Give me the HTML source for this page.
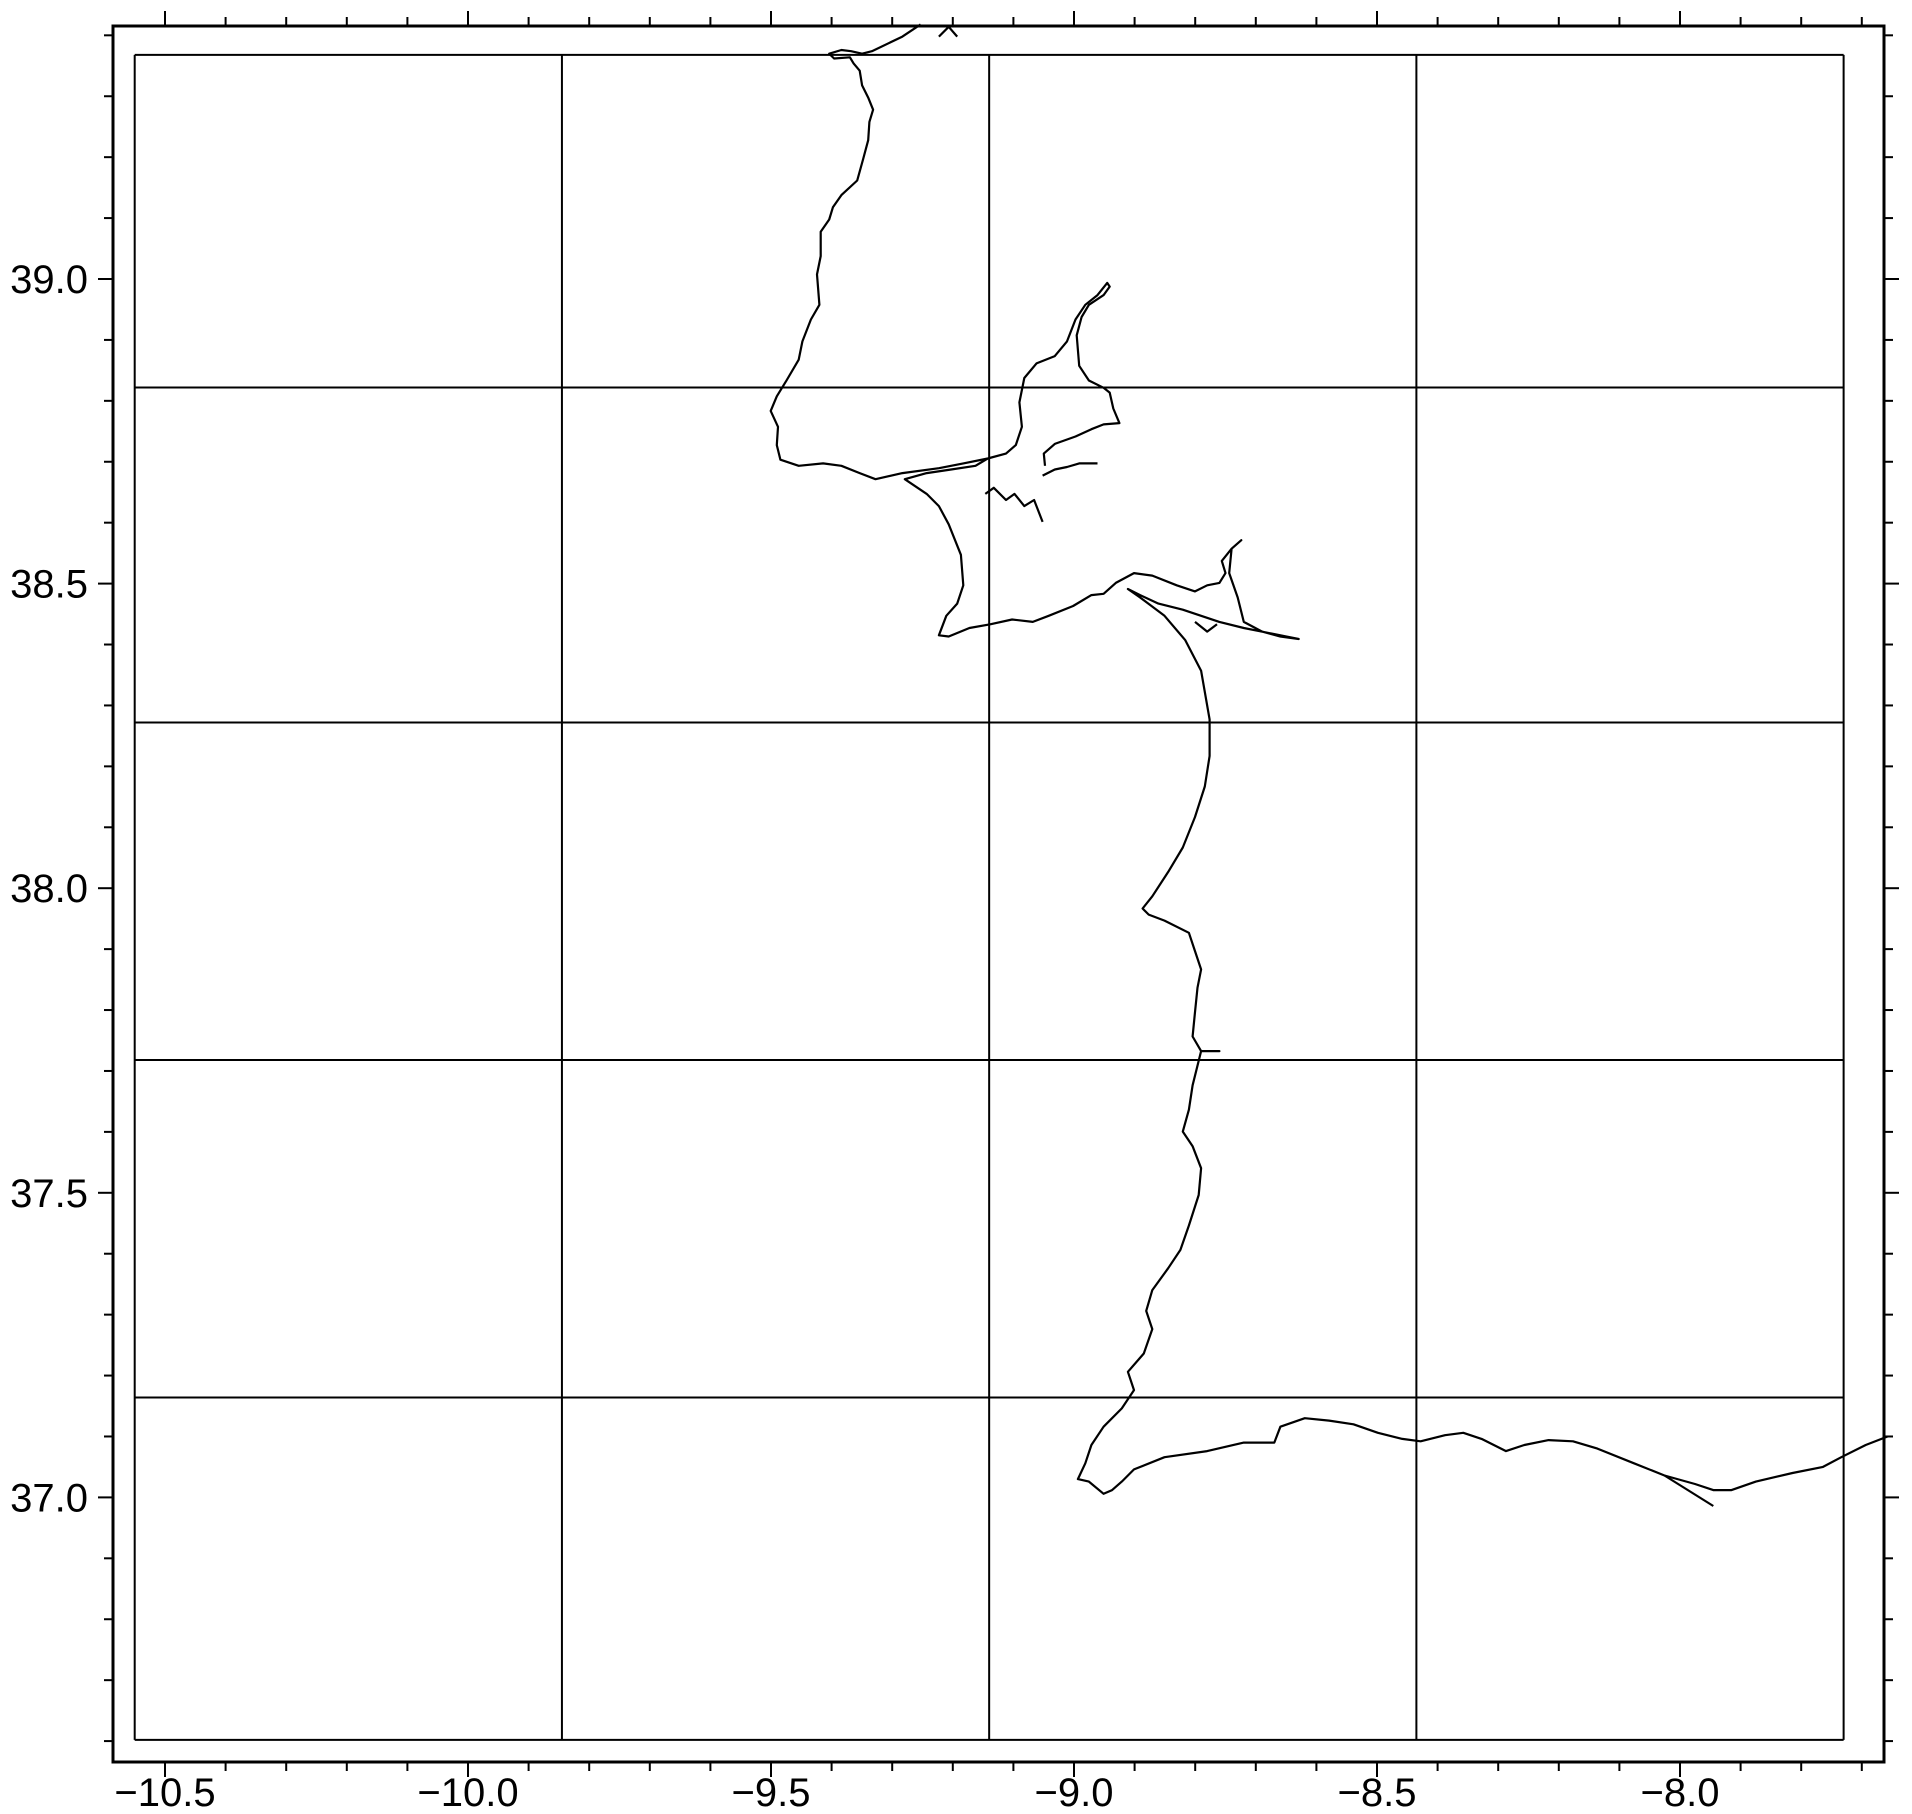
<!DOCTYPE html>
<html><head><meta charset="utf-8"><style>
body{margin:0;background:#fff}
svg{display:block}
text{font-family:"Liberation Sans",sans-serif;font-size:40px;fill:#000}
</style></head><body>
<svg id="map" width="1912" height="1814" viewBox="0 0 1912 1814" xmlns="http://www.w3.org/2000/svg">
<g id="grid"></g>
<g id="coast"></g>
<g id="axes"></g>
</svg>
<script>
const xTickValues=[-10.5,-10.0,-9.5,-9.0,-8.5,-8.0];
const xTickLabels=["\u221210.5","\u221210.0","\u22129.5","\u22129.0","\u22128.5","\u22128.0"];
const yTickValues=[37.0,37.5,38.0,38.5,39.0];
const yTickLabels=["37.0","37.5","38.0","38.5","39.0"];
const gridLons=[-10.55,-9.845,-9.14,-8.435,-7.73];
const gridLats=[39.368,38.822,38.272,37.718,37.164,36.602];
// coastline (image-space trace, converted via inverse axes)
const coastMain=[[755,20],[740,30],[715,42],[707,44],[698,42],[690,41],[680,44],[684,48],[697,47],[700,52],[705,58],[707,70],[712,80],[716,90],[713,100],[712,115],[708,130],[703,148],[690,160],[683,170],[680,180],[673,190],[673,210],[670,225],[672,250],[665,262],[658,280],[655,295],[645,312],[637,325],[632,337],[638,350],[637,365],[640,377],[655,382],[675,380],[690,382],[705,388],[718,393],[740,388],[770,384],[790,380],[810,376],[825,372],[833,365],[838,350],[836,330],[840,310],[850,298],[865,292],[875,280],[882,262],[890,250],[900,242],[908,232],[910,235],[905,242],[893,250],[887,260],[883,275],[885,300],[893,312],[905,318],[910,322],[913,335],[918,347],[905,348],[895,352],[882,358],[865,364],[856,372],[857,382]];
const coastSouth=[[810,376],[800,382],[780,385],[760,388],[742,393],[760,405],[770,415],[778,430],[788,455],[790,480],[785,495],[776,505],[770,521],[778,522],[795,515],[812,512],[830,508],[847,510],[860,505],[880,497],[895,488],[905,487],[915,478],[930,470],[945,472],[965,480],[980,485],[990,480],[1000,478],[1005,470],[1002,460],[1010,450],[1018,443],[1010,450],[1008,470],[1015,490],[1020,510],[1035,518],[1050,522],[1065,524],[1045,520],[1020,515],[1000,510],[985,505],[970,500],[950,495],[935,488],[925,483],[935,490],[955,505],[972,525],[985,550],[992,590],[992,620],[988,645],[980,670],[970,695],[958,715],[945,735],[937,745],[942,750],[955,755],[975,765],[980,780],[985,795],[982,810],[980,830],[978,850],[985,862],[1000,862],[985,862],[978,890],[975,910],[970,928],[978,940],[985,958],[983,980],[975,1005],[968,1025],[958,1040],[945,1058],[940,1075],[945,1090],[938,1110],[925,1125],[930,1140],[920,1155],[905,1170],[895,1185],[890,1200],[884,1213],[893,1215],[905,1225],[912,1222],[920,1215],[930,1205],[955,1195],[990,1190],[1020,1183],[1045,1183],[1050,1170],[1070,1163],[1090,1165],[1110,1168],[1130,1175],[1150,1180],[1165,1182],[1185,1177],[1200,1175],[1215,1180],[1235,1190],[1250,1185],[1270,1181],[1290,1182],[1310,1188],[1340,1200],[1365,1210],[1390,1217],[1405,1222],[1420,1222],[1440,1215],[1470,1208],[1495,1203],[1510,1195],[1530,1185],[1548,1178]];
const coastBits=[[[808,405],[815,400],[825,410],[832,405],[840,415],[848,410],[855,428]],[[855,390],[865,385],[875,383],[885,380],[900,380]],[[770,30],[778,22],[785,30]],[[980,510],[990,518],[998,512]],[[1365,1210],[1405,1235]]];

const X0=165,XS=606,Y0=279,YS=609.2,K=1.2194;
function toLon(p){return -10.5+(p[0]*K-X0)/XS;}
function toLat(p){return 39-(p[1]*K-Y0)/YS;}
function xs(lon){return X0+(lon+10.5)*XS;}
function ys(lat){return Y0-(lat-39)*YS;}
const NS="http://www.w3.org/2000/svg";
function mk(tag,attrs,parent){const e=document.createElementNS(NS,tag);for(const k in attrs)e.setAttribute(k,attrs[k]);parent.appendChild(e);return e;}
const grid=document.getElementById('grid'),coast=document.getElementById('coast'),axes=document.getElementById('axes');
const gL=xs(gridLons[0]),gR=xs(gridLons[gridLons.length-1]),gT=ys(gridLats[0]),gB=ys(gridLats[gridLats.length-1]);
gridLons.forEach(v=>{const l=mk('line',{x1:xs(v),x2:xs(v),y1:gT,y2:gB,stroke:'#000','stroke-width':2},grid);

});
gridLats.forEach(v=>{const l=mk('line',{x1:gL,x2:gR,y1:ys(v),y2:ys(v),stroke:'#000','stroke-width':2},grid);

});
function drawLine(pts,name){const d=pts.map((p,i)=>(i?'L':'M')+xs(toLon(p)).toFixed(1)+','+ys(toLat(p)).toFixed(1)).join('');
const e=mk('path',{d:d,fill:'none',stroke:'#000','stroke-width':2.2,'stroke-linejoin':'round'},coast);

}
drawLine(coastMain,'coastline-north');
drawLine(coastSouth,'coastline-south');
coastBits.forEach(b=>drawLine(b,'coastline-detail'));
const FL=113,FR=1884,FT=26,FB=1762;
const fr=mk('rect',{x:FL,y:FT,width:FR-FL,height:FB-FT,fill:'none',stroke:'#000','stroke-width':3},axes);


for(let i=-106;i<=-72;i++){const lon=i/10,x=xs(lon);if(x<FL||x>FR)continue;const maj=(i%5===0);const L=maj?15:9;
const t1=mk('line',{x1:x,x2:x,y1:FB,y2:FB+L,stroke:'#000','stroke-width':2},axes);


const t2=mk('line',{x1:x,x2:x,y1:FT,y2:FT-L,stroke:'#000','stroke-width':2},axes);

}
for(let i=365;i<=395;i++){const y=ys(i/10);if(y<FT||y>FB)continue;const maj=(i%5===0);const L=maj?15:9;
const t1=mk('line',{x1:FL,x2:FL-L,y1:y,y2:y,stroke:'#000','stroke-width':2},axes);


const t2=mk('line',{x1:FR,x2:FR+L,y1:y,y2:y,stroke:'#000','stroke-width':2},axes);

}
xTickValues.forEach((v,i)=>{const t=mk('text',{x:xs(v),y:1806,'text-anchor':'middle'},axes);t.textContent=xTickLabels[i];

});
yTickValues.forEach((v,i)=>{const t=mk('text',{x:88,y:ys(v)+14,'text-anchor':'end'},axes);t.textContent=yTickLabels[i];

});
</script>
</body></html>
